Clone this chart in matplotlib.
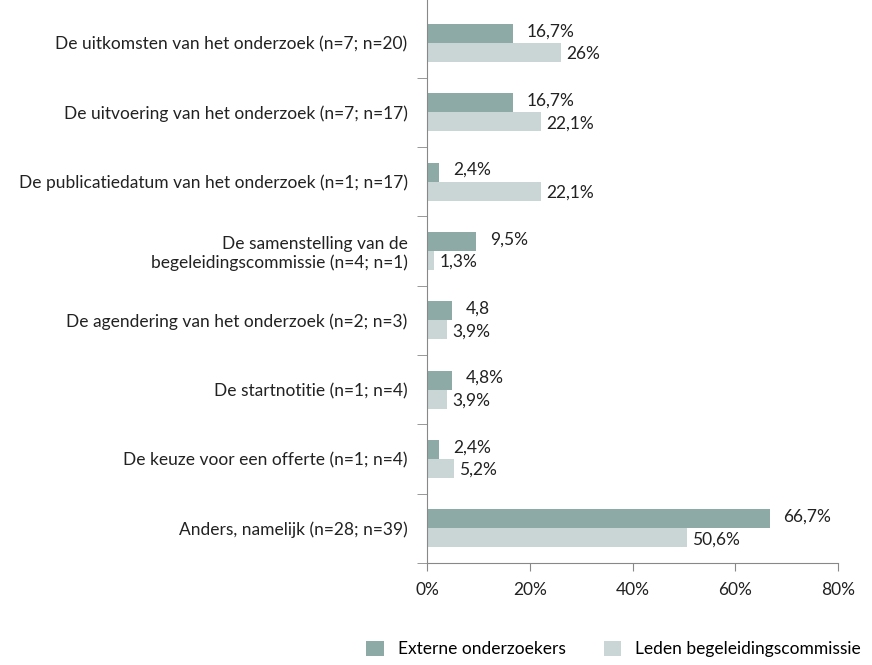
import numpy as np
import matplotlib.pyplot as plt

plt.rcParams['font.family'] = ['Lato', 'DejaVu Sans']

# Data
categories = [
    "De uitkomsten van het onderzoek (n=7; n=20)",
    "De uitvoering van het onderzoek (n=7; n=17)",
    "De publicatiedatum van het onderzoek (n=1; n=17)",
    "De samenstelling van de\nbegeleidingscommissie (n=4; n=1)",
    "De agendering van het onderzoek (n=2; n=3)",
    "De startnotitie (n=1; n=4)",
    "De keuze voor een offerte (n=1; n=4)",
    "Anders, namelijk (n=28; n=39)",
]
externe = [16.7, 16.7, 2.4, 9.5, 4.8, 4.8, 2.4, 66.7]
leden = [26, 22.1, 22.1, 1.3, 3.9, 3.9, 5.2, 50.6]
externe_labels = ["16,7%", "16,7%", "2,4%", "9,5%", "4,8", "4,8%", "2,4%", "66,7%"]
leden_labels = ["26%", "22,1%", "22,1%", "1,3%", "3,9%", "3,9%", "5,2%", "50,6%"]
xticks = [0, 20, 40, 60, 80]

c_ext = "#8eaaa7"
c_led = "#c9d6d5"
txt = "#222222"
fs = 12.5

fig = plt.figure(figsize=(8.72, 6.65), dpi=100)
ax = fig.add_axes([427 / 872, 1 - 563 / 665, (838 - 427) / 872, 563 / 665])

y = np.arange(len(categories))
h = 0.275
ax.barh(y - h / 2, externe, height=h, color=c_ext, label="Externe onderzoekers")
ax.barh(y + h / 2, leden, height=h, color=c_led, label="Leden begeleidingscommissie")

for i in range(len(categories)):
    ax.annotate(externe_labels[i], (externe[i], y[i] - h / 2 - 0.03), xytext=(10, 0),
                textcoords="offset points", va="center", ha="left", fontsize=fs, color=txt)
    ax.annotate(leden_labels[i], (leden[i], y[i] + h / 2 + 0.02), xytext=(4, 0),
                textcoords="offset points", va="center", ha="left", fontsize=fs, color=txt)

ax.set_ylim(len(categories) - 0.5, -0.62)
ax.set_xlim(0, 80)
ax.set_yticks(y)
ax.set_yticklabels(categories, fontsize=fs, color=txt, ha="right", multialignment="right")
ax.tick_params(axis="y", length=0, pad=14)
ax.set_yticks(np.arange(len(categories)) + 0.5, minor=True)
ax.tick_params(axis="y", which="minor", length=7, color="#888888")

ax.set_xticks(xticks)
ax.set_xticklabels([f"{t}%" for t in xticks], fontsize=fs, color=txt)
ax.tick_params(axis="x", length=6, color="#888888", pad=8)

for s in ["top", "right"]:
    ax.spines[s].set_visible(False)
for s in ["left", "bottom"]:
    ax.spines[s].set_color("#888888")

fig.legend(loc="lower right", bbox_to_anchor=(1.005, -0.012), ncol=2, frameon=False,
           fontsize=fs, handlelength=1.0, handleheight=1.0, columnspacing=2.2,
           handletextpad=0.8)

fig.savefig("out.png", dpi=100)
